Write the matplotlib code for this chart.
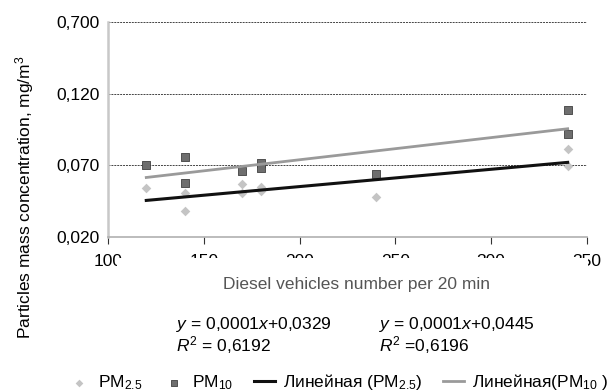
import numpy as np
import matplotlib
matplotlib.use("Agg")
import matplotlib.pyplot as plt
from matplotlib.patches import Rectangle

plt.rcParams['font.family'] = ['Liberation Sans', 'DejaVu Sans']
plt.rcParams['mathtext.fontset'] = 'custom'
plt.rcParams['mathtext.rm'] = 'Liberation Sans'
plt.rcParams['mathtext.it'] = 'Liberation Sans:italic'

# data
pm25_x = [120, 140, 140, 170, 170, 180, 180, 240, 340, 340]
pm25_y = [0.054, 0.0506, 0.038, 0.0568, 0.0506, 0.0547, 0.052, 0.0478, 0.0811, 0.0693]
pm10_x = [120, 140, 140, 170, 180, 180, 240, 340, 340]
pm10_y = [0.070, 0.0756, 0.0575, 0.0658, 0.0714, 0.068, 0.0638, 0.1089, 0.0922]

x_ticks = [100, 150, 200, 250, 300, 350]
y_ticks = [0.020, 0.070, 0.120, 0.170]
y_tick_labels = ['0,020', '0,070', '0,120', '0,700']

eq_25 = ['$y$ = 0,0001$x$+0,0329', '$R^2$ = 0,6192']
eq_10 = ['$y$ = 0,0001$x$+0,0445', '$R^2$ =0,6196']

FS = 12.5

fig = plt.figure(figsize=(6.1, 3.92), dpi=100)
ax = fig.add_axes([0.177, 0.395, 0.785, 0.549])

# trend lines (least squares on the points)
xs = np.array([120, 340])
k25, b25 = np.polyfit(pm25_x, pm25_y, 1)
k10, b10 = np.polyfit(pm10_x, pm10_y, 1)

s25 = ax.scatter(pm25_x, pm25_y, marker='D', s=24, color='#c4c4c4', zorder=3,
                 linewidths=0)
s10 = ax.scatter(pm10_x, pm10_y, marker='s', s=36, color='#6e6e6e',
                 edgecolors='#404040', linewidths=0.6, zorder=3)
l25, = ax.plot(xs, k25 * xs + b25, color='#111111', lw=2.2, zorder=4)
l10, = ax.plot(xs, k10 * xs + b10, color='#9a9a9a', lw=2.0, zorder=4)

ax.set_xlim(100, 350)
ax.set_ylim(0.020, 0.170)
ax.set_xticks(x_ticks)
ax.set_yticks(y_ticks)
ax.set_yticklabels(y_tick_labels)
ax.tick_params(axis='y', length=0, labelsize=FS, pad=6)
ax.tick_params(axis='x', length=5, direction='out', color='#333333',
               labelsize=FS, pad=7)
for y in y_ticks[1:]:
    ax.axhline(y, color='#444444', lw=0.7, ls=(0, (2, 1)), zorder=1)

for side in ['top', 'right']:
    ax.spines[side].set_visible(False)
ax.spines['left'].set_color('#c8c8c8')
ax.spines['left'].set_linewidth(1.8)
ax.spines['bottom'].set_color('#b0b0b0')
ax.spines['bottom'].set_linewidth(1.2)

# the axis title box hides the lower half of the tick labels, as in the source
fig.patches.append(Rectangle((117 / 610, 1 - 276 / 392), 471 / 610, 18 / 392,
                             transform=fig.transFigure, facecolor='white',
                             edgecolor='none', zorder=5))
fig.text(0.585, 1 - 285 / 392, 'Diesel vehicles number per 20 min',
         fontsize=FS, color='#555555', ha='center', va='center', zorder=6)
fig.text(0.041, 0.497, 'Particles mass concentration, mg/m$^3$', rotation=90,
         ha='center', va='center', fontsize=FS)

fig.text(0.289, 0.145, eq_25[0] + '\n' + eq_25[1], fontsize=FS,
         va='center', ha='left', linespacing=1.0)
fig.text(0.621, 0.145, eq_10[0] + '\n' + eq_10[1], fontsize=FS,
         va='center', ha='left', linespacing=1.0)

fig.legend([s25, s10, l25, l10],
           ['PM$_{2.5}$', 'PM$_{10}$', 'Линейная (PM$_{2.5}$)', 'Линейная(PM$_{10}$ )'],
           loc='center', bbox_to_anchor=(0.555, 0.025), ncol=4, frameon=False,
           fontsize=FS, handlelength=1.2, handletextpad=0.45, columnspacing=1.2,
           markerscale=0.8, borderpad=0.1)

fig.savefig('out.png', dpi=100)
